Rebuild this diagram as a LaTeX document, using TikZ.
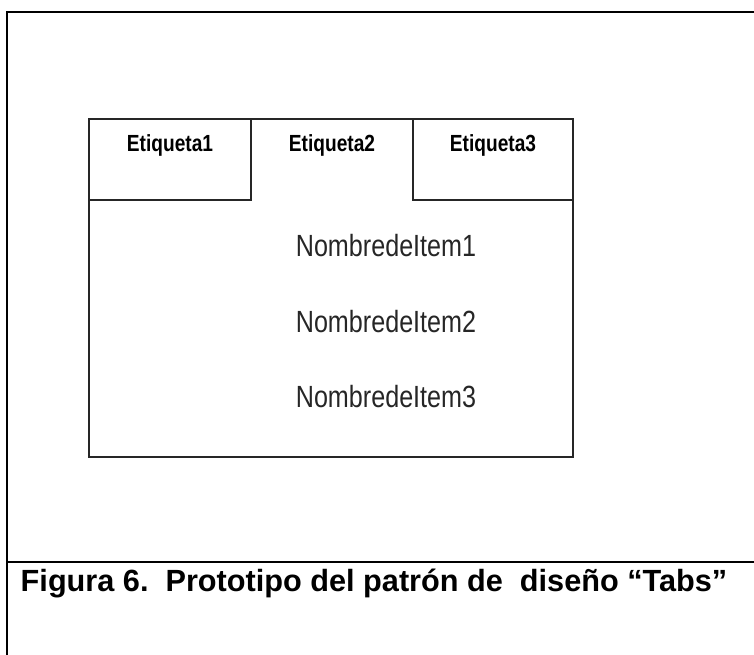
\documentclass[tikz,border=0pt]{standalone}
\usepackage{fontspec}
\setmainfont{Liberation Sans}
\newfontfamily\narrowfont[FakeStretch=0.82]{Liberation Sans}
\begin{document}
\begin{tikzpicture}[x=0.75pt,y=-0.75pt]
        \useasboundingbox(0,0)rectangle(754,655);
        \tikzset{frame/.style={line width=1.5pt},
                 tabline/.style={line width=1pt,black!85},
                 tablabel/.style={anchor=base,font=\narrowfont\bfseries\fontsize{17.5}{20}\selectfont},
                 itemlabel/.style={anchor=base,black!85,font=\narrowfont\fontsize{23}{26}\selectfont}}

        % cell borders
        \draw[frame](7,655)--(7,12)--(754,12);
        \draw[frame](7,562)--(754,562);

        % tab box
        \draw[tabline](89,119)rectangle(573,457);
        \draw[tabline](89,200)--(251,200)--(251,119);
        \draw[tabline](413,119)--(413,200)--(573,200);

        \node[tablabel](tab1)at(170,152){Etiqueta1};
        \node[tablabel](tab2)at(332,152){Etiqueta2};
        \node[tablabel](tab3)at(493,152){Etiqueta3};

        \node[itemlabel](item1)at(386,257){NombredeItem1};
        \node[itemlabel](item2)at(386,333){NombredeItem2};
        \node[itemlabel](item3)at(386,408){NombredeItem3};

        \node[anchor=base,font=\bfseries\fontsize{23}{27}\selectfont](caption)at(374,592){Figura 6.\ \ Prototipo del patrón de\ \ diseño “Tabs”};
    \end{tikzpicture}
\end{document}
